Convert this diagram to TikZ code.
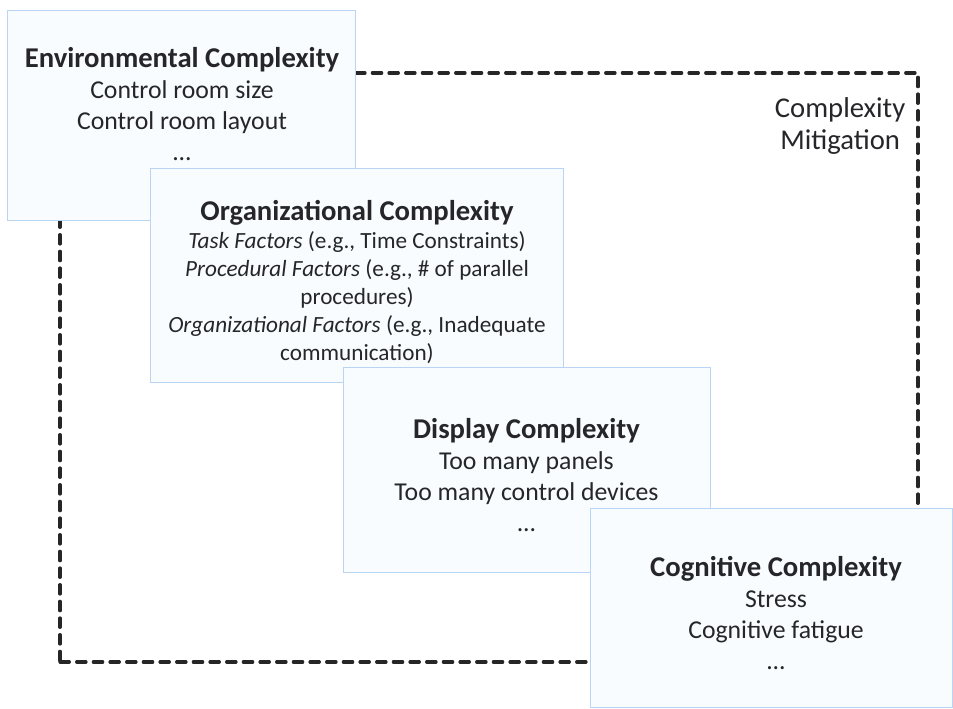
\documentclass[tikz,border=0pt]{standalone}
\usepackage{fontspec}
\setmainfont{Carlito}
\definecolor{boxfill}{RGB}{248,252,255}
\definecolor{boxline}{RGB}{185,212,245}
\definecolor{ink}{RGB}{38,38,42}
\newcommand\boxhead[1]{{\fontsize{21.5}{23.25}\selectfont\bfseries #1}}
\begin{document}
\begin{tikzpicture}[x=0.75pt,y=-0.75pt,
    cbox/.style={draw=boxline,fill=boxfill,line width=0.7pt,inner sep=0pt},
    txt/.style={align=center,text=ink,font=\fontsize{19.3}{23.25}\selectfont},
    smalltxt/.style={align=center,text=ink,font=\fontsize{17.4}{21}\selectfont},
    frame/.style={draw=black!85,line width=2.4pt,line cap=round,dash pattern=on 7pt off 5.5pt,inner sep=0pt}]
\useasboundingbox (0,0) rectangle (953,709);
% mitigation frame behind the boxes
\node[frame,minimum width=643.5pt,minimum height=441.75pt] (mitig) at (489,367.5) {};
\node[txt,font=\fontsize{21.5}{24}\selectfont,anchor=east] (mitigtext) at (910,126) {Complexity\\Mitigation};
% the four complexity boxes, each one over the last
\node[cbox,minimum width=261pt,minimum height=157.5pt] (env) at (181,115) {};
\node[txt] (envtext) at (182,104) {\boxhead{Environmental Complexity}\\Control room size\\Control room layout\\...};
\node[cbox,minimum width=309.75pt,minimum height=160.5pt] (org) at (356.5,275) {};
\node[smalltxt] (orgtext) at (357,282) {\boxhead{Organizational Complexity}\\\textit{Task Factors} (e.g., Time Constraints)\\\textit{Procedural Factors} (e.g., \# of parallel\\procedures)\\\textit{Organizational Factors} (e.g., Inadequate\\communication)};
\node[cbox,minimum width=275.25pt,minimum height=153.75pt] (disp) at (526.5,469.5) {};
\node[txt] (disptext) at (526.5,475) {\boxhead{Display Complexity}\\Too many panels\\Too many control devices\\...};
\node[cbox,minimum width=271.5pt,minimum height=149.25pt] (cog) at (771,607.5) {};
\node[txt] (cogtext) at (776,613) {\boxhead{Cognitive Complexity}\\Stress\\Cognitive fatigue\\...};
\end{tikzpicture}
\end{document}
